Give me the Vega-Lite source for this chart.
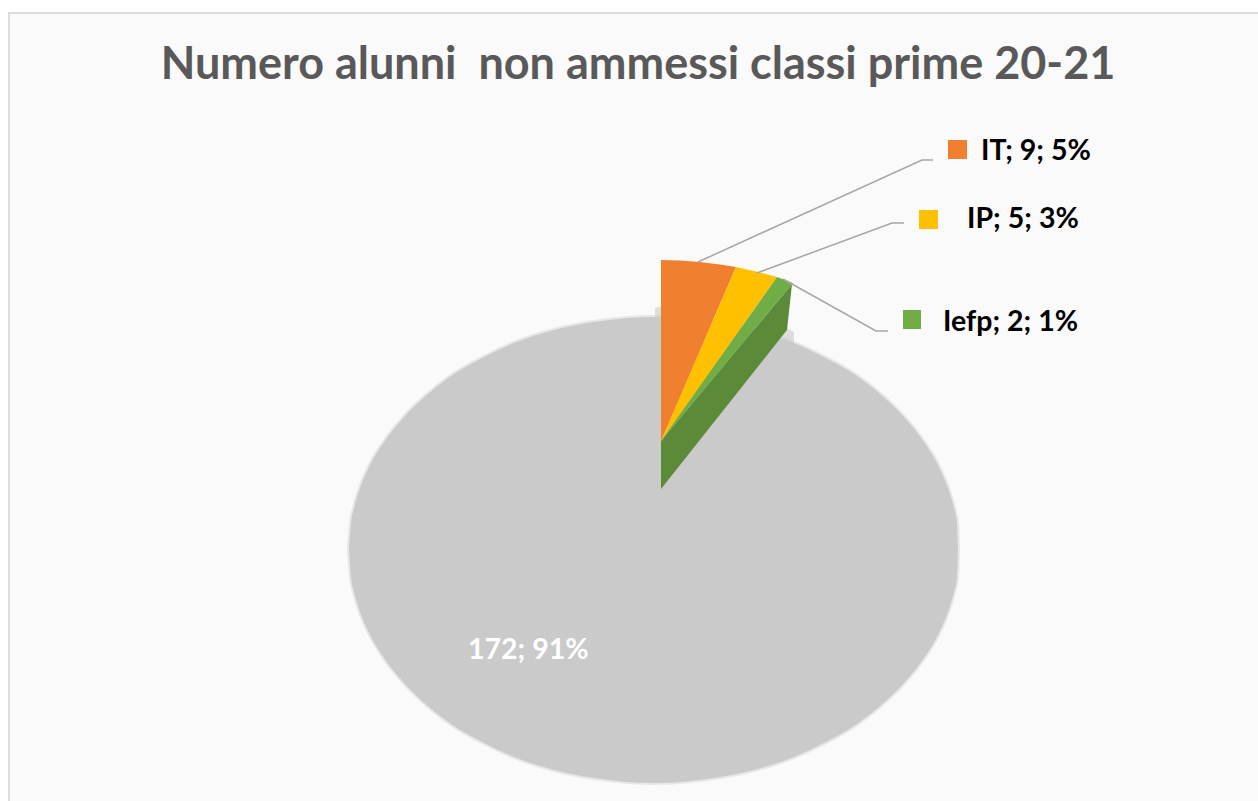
{
"$schema":"https://vega.github.io/schema/vega-lite/v6.json",
"width":1258,"height":801,"padding":0,
"autosize":{"type":"fit","contains":"padding"},
"background":"white",
"config":{"view":{"stroke":null}},
"datasets":{
"frame":[{"x":9,"x2":1270,"y":13,"y2":812}],
"ellipse":[
{"x":349,"d":0},{"x":351,"d":27},{"x":354,"d":42},{"x":359,"d":59},{"x":369,"d":83},{"x":384,"d":108},{"x":404,"d":133},{"x":429,"d":157},{"x":454,"d":176},{"x":484,"d":193},{"x":514,"d":207},{"x":554,"d":220},{"x":594,"d":228},{"x":654,"d":233},{"x":714,"d":228},{"x":754,"d":220},{"x":794,"d":207},{"x":824,"d":193},{"x":854,"d":176},{"x":879,"d":157},{"x":904,"d":133},{"x":924,"d":108},{"x":939,"d":83},{"x":949,"d":59},{"x":954,"d":42},{"x":957,"d":27},{"x":958,"d":0}],
"shadow":[
{"part":"a","x":655,"y":308,"y2":322},{"part":"a","x":662,"y":306,"y2":322},
{"part":"b","x":780,"y":325,"y2":345},{"part":"b","x":794,"y":332,"y2":352}],
"side":[
{"x":661,"y":441,"y2":489},{"x":787,"y":290,"y2":330},{"x":792,"y":284,"y2":284}],
"wedges":[
{"part":"IT","x":661,"y":260,"y2":441},{"part":"IT","x":680,"y":260.5,"y2":397},{"part":"IT","x":700,"y":262,"y2":350.5},{"part":"IT","x":720,"y":264.5,"y2":304},{"part":"IT","x":736,"y":267,"y2":267},
{"part":"IP","x":661,"y":441,"y2":441},{"part":"IP","x":700,"y":350.5,"y2":386},{"part":"IP","x":736,"y":267,"y2":335},{"part":"IP","x":756,"y":271.5,"y2":306.7},{"part":"IP","x":777,"y":277,"y2":277},
{"part":"Iefp","x":661,"y":441,"y2":441},{"part":"Iefp","x":777,"y":277,"y2":302},{"part":"Iefp","x":793,"y":283,"y2":283}],
"leaders":[
{"part":"IT","o":1,"x":698,"y":262},{"part":"IT","o":2,"x":922,"y":160},{"part":"IT","o":3,"x":933,"y":160},
{"part":"IP","o":1,"x":757,"y":273},{"part":"IP","o":2,"x":892,"y":223},{"part":"IP","o":3,"x":904,"y":223},
{"part":"Iefp","o":1,"x":783,"y":279},{"part":"Iefp","o":2,"x":876,"y":331},{"part":"Iefp","o":3,"x":888,"y":331}],
"keys":[
{"part":"IT","x":948,"x2":967,"y":140,"y2":159},
{"part":"IP","x":919,"x2":938,"y":210,"y2":229},
{"part":"Iefp","x":903,"x2":921,"y":310,"y2":329}],
"labels":[
{"label":"IT; 9; 5%","x":981,"y":151},
{"label":"IP; 5; 3%","x":967,"y":219},
{"label":"Iefp; 2; 1%","x":943,"y":322}],
"inner":[{"label":"172; 91%","x":468,"y":650}],
"title":[{"label":"Numero alunni\u00a0 non ammessi classi prime 20-21","x":638,"y":65}]
},
"layer":[
{"data":{"name":"frame"},"mark":{"type":"rect","fill":"#fafafa","stroke":"#dcdcdc","strokeWidth":2,"clip":true},
 "encoding":{"x":{"field":"x","type":"quantitative","scale":{"domain":[0,1258],"nice":false,"zero":false},"axis":null},"x2":{"field":"x2"},"y":{"field":"y","type":"quantitative","scale":{"domain":[801,0],"nice":false,"zero":false},"axis":null},"y2":{"field":"y2"}}},
{"data":{"name":"title"},"mark":{"type":"text","font":"Lato","fontWeight":"bold","fontSize":45,"color":"#595959","align":"center","baseline":"middle"},
 "encoding":{"x":{"field":"x","type":"quantitative"},"y":{"field":"y","type":"quantitative"},"text":{"field":"label"}}},
{"data":{"name":"ellipse"},"transform":[{"calculate":"550-datum.d","as":"top"},{"calculate":"550+datum.d","as":"bot"}],
 "mark":{"type":"area","interpolate":"monotone","fill":"#cacaca","stroke":"#cacaca","strokeOpacity":0.4,"strokeWidth":4},
 "encoding":{"x":{"field":"x","type":"quantitative"},"y":{"field":"top","type":"quantitative"},"y2":{"field":"bot"}}},
{"data":{"name":"shadow"},"mark":{"type":"area","fill":"#cacaca","opacity":0.6},
 "encoding":{"detail":{"field":"part"},"x":{"field":"x","type":"quantitative"},"y":{"field":"y","type":"quantitative","stack":null},"y2":{"field":"y2"}}},
{"data":{"name":"side"},"mark":{"type":"area","fill":"#5b8a38"},
 "encoding":{"x":{"field":"x","type":"quantitative"},"y":{"field":"y","type":"quantitative","stack":null},"y2":{"field":"y2"}}},
{"data":{"name":"wedges"},"mark":{"type":"area","interpolate":"linear"},
 "encoding":{"x":{"field":"x","type":"quantitative"},"y":{"field":"y","type":"quantitative","stack":null},"y2":{"field":"y2"},
 "color":{"field":"part","type":"nominal","legend":null,"scale":{"domain":["IT","IP","Iefp"],"range":["#f08030","#ffc000","#70ad47"]}}}},
{"data":{"name":"leaders"},"mark":{"type":"line","color":"#a6a6a6","strokeWidth":1.5},
 "encoding":{"detail":{"field":"part"},"order":{"field":"o"},"x":{"field":"x","type":"quantitative"},"y":{"field":"y","type":"quantitative"}}},
{"data":{"name":"keys"},"mark":{"type":"rect"},
 "encoding":{"x":{"field":"x","type":"quantitative"},"x2":{"field":"x2"},"y":{"field":"y","type":"quantitative"},"y2":{"field":"y2"},
 "color":{"field":"part","type":"nominal","legend":null,"scale":{"domain":["IT","IP","Iefp"],"range":["#f08030","#ffc000","#70ad47"]}}}},
{"data":{"name":"labels"},"mark":{"type":"text","font":"Lato","fontWeight":"bold","fontSize":28.5,"color":"#000000","align":"left","baseline":"middle"},
 "encoding":{"x":{"field":"x","type":"quantitative"},"y":{"field":"y","type":"quantitative"},"text":{"field":"label"}}},
{"data":{"name":"inner"},"mark":{"type":"text","font":"Lato","fontWeight":"bold","fontSize":28.5,"color":"#ffffff","align":"left","baseline":"middle"},
 "encoding":{"x":{"field":"x","type":"quantitative"},"y":{"field":"y","type":"quantitative"},"text":{"field":"label"}}}
]
}
